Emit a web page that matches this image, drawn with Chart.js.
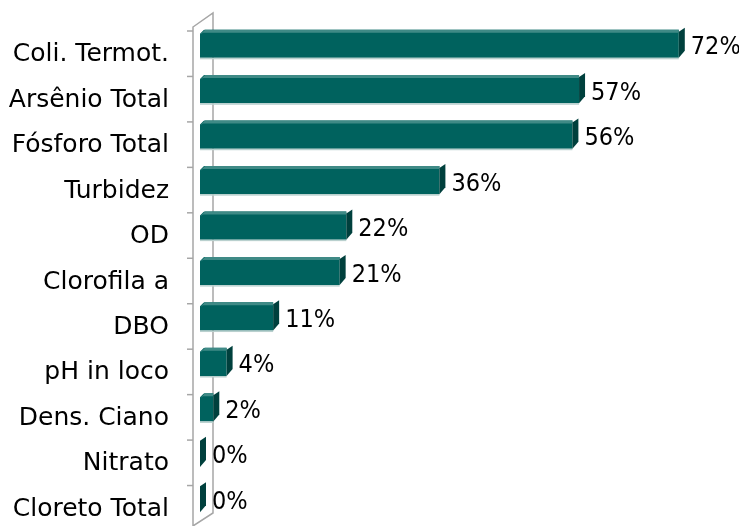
<!DOCTYPE html>
<html>
<head>
<meta charset="utf-8">
<script src="https://cdn.jsdelivr.net/npm/chart.js@4/dist/chart.umd.min.js"></script>
<style>
  html, body { margin: 0; padding: 0; background: #fff; }
  #wrap { position: relative; width: 739px; height: 526px; }
</style>
</head>
<body>
<div id="wrap"><canvas id="c"></canvas></div>
<script>
const labels = ['Coli. Termot.', 'Arsênio Total', 'Fósforo Total', 'Turbidez', 'OD',
  'Clorofila a', 'DBO', 'pH in loco', 'Dens. Ciano', 'Nitrato', 'Cloreto Total'];
const values = [72, 57, 56, 36, 22, 21, 11, 4, 2, 0, 0];
const xMax = 80;

const FONT = '"DejaVu Sans", sans-serif';
const VFONT = '"Liberation Sans Narrow", "DejaVu Sans Condensed", sans-serif';

// side face, bevel and % labels drawn from the bar elements
const bar3d = {
  id: 'bar3d',
  afterDatasetsDraw(chart) {
    const ctx = chart.ctx;
    const meta = chart.getDatasetMeta(0);
    ctx.save();
    meta.data.forEach((bar, i) => {
      const p = bar.getProps(['x', 'y', 'base', 'height'], true);
      const top = p.y - p.height / 2, bottom = p.y + p.height / 2;
      const x = p.x, base = p.base;
      if (x - base > 4) {
        // top bevel
        ctx.fillStyle = '#3f8a86';
        ctx.beginPath();
        ctx.moveTo(base, top + 5);
        ctx.lineTo(base + 5, top);
        ctx.lineTo(x, top);
        ctx.lineTo(x, top + 3);
        ctx.lineTo(base + 3, top + 3);
        ctx.closePath();
        ctx.fill();
        ctx.fillStyle = '#fff';
        ctx.beginPath();
        ctx.moveTo(base - 1, top - 1);
        ctx.lineTo(base + 5, top - 1);
        ctx.lineTo(base - 1, top + 5);
        ctx.closePath();
        ctx.fill();
        ctx.fillStyle = '#b9d0ce';
        ctx.fillRect(base, bottom, x - base, 1.5);
      }
      // right side face
      ctx.fillStyle = '#00403d';
      ctx.beginPath();
      ctx.moveTo(x, top + 2);
      ctx.lineTo(x + 6, top - 2);
      ctx.lineTo(x + 6, bottom - 7);
      ctx.lineTo(x, bottom);
      ctx.closePath();
      ctx.fill();
      ctx.fillStyle = '#000';
      ctx.font = '25px ' + VFONT;
      ctx.textBaseline = 'middle';
      ctx.textAlign = 'left';
      ctx.fillText(values[i] + '%', x + 12, p.y + 4);
    });
    ctx.restore();
  }
};

// the grey 3D wall on the left
const wall = {
  id: 'wall',
  beforeDatasetsDraw(chart) {
    const ctx = chart.ctx;
    const a = chart.chartArea;
    const fx = a.left - 7, bx = a.left + 13;
    ctx.save();
    ctx.strokeStyle = '#a6a6a6';
    ctx.lineWidth = 1.5;
    ctx.beginPath();
    ctx.moveTo(fx, a.top + 6);
    ctx.lineTo(bx, a.top - 8);
    ctx.lineTo(bx, a.bottom - 8);
    ctx.lineTo(fx, a.bottom + 5);
    ctx.closePath();
    ctx.stroke();
    const step = (a.bottom - a.top) / labels.length;
    for (let i = 0; i < labels.length; i++) {
      const y = a.top + 10 + i * step;
      ctx.beginPath();
      ctx.moveTo(fx - 6, y);
      ctx.lineTo(fx, y);
      ctx.stroke();
    }
    ctx.restore();
  }
};

new Chart(document.getElementById('c'), {
  type: 'bar',
  data: {
    labels: labels,
    datasets: [{
      data: values,
      backgroundColor: '#00625e',
      borderWidth: 0,
      barPercentage: 0.62,
      categoryPercentage: 1
    }]
  },
  options: {
    indexAxis: 'y',
    responsive: true,
    maintainAspectRatio: false,
    animation: false,
    layout: { padding: { top: 21, bottom: 5, right: 7, left: 0 } },
    plugins: { legend: { display: false }, tooltip: { enabled: false } },
    scales: {
      x: { display: false, min: 0, max: xMax },
      y: {
        grid: { display: false, drawTicks: false },
        border: { display: false },
        ticks: { color: '#000', font: { family: FONT, size: 25 }, padding: 31, autoSkip: false, labelOffset: 11 },
        afterFit(scale) {
          scale.width = 200;
          scale.paddingTop = 0;
          scale.paddingBottom = 0;
        }
      }
    }
  },
  plugins: [wall, bar3d]
});
</script>
</body>
</html>
